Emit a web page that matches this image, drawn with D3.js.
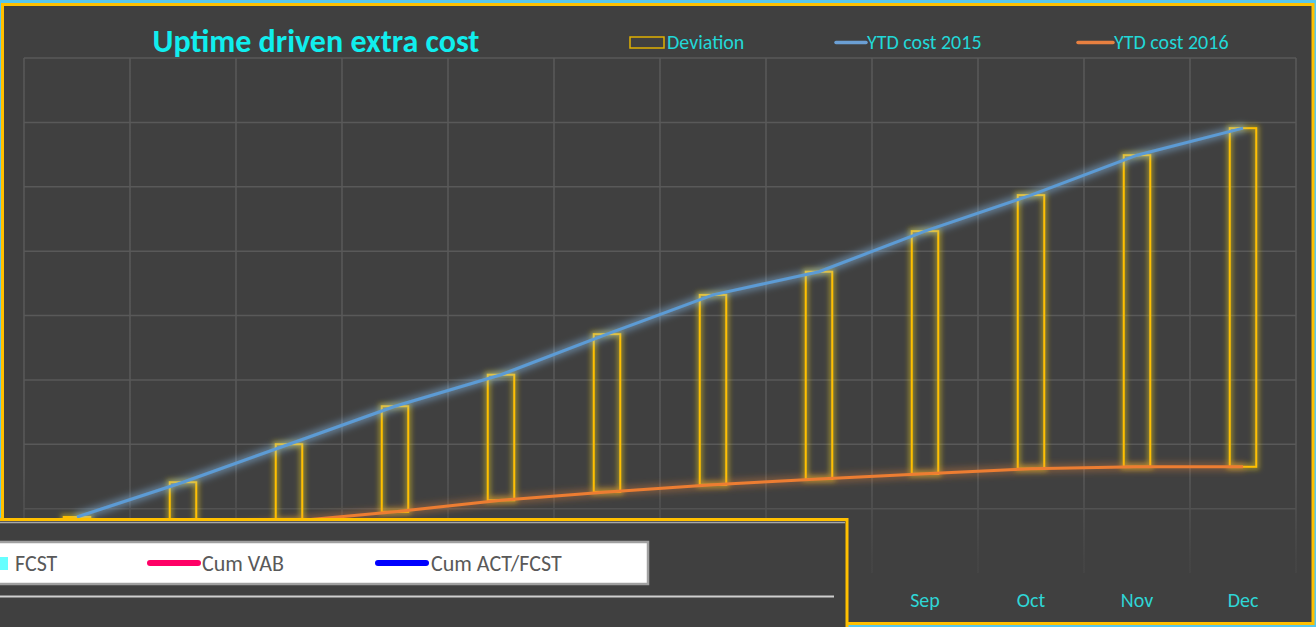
<!DOCTYPE html>
<html>
<head>
<meta charset="utf-8">
<script src="https://cdn.jsdelivr.net/npm/d3@7"></script>
<style>
  body { margin: 0; background: #58c6ec; }
  svg { display: block; }
  text { font-family: Carlito, Calibri, Lato, sans-serif; }
</style>
</head>
<body>
<svg id="chart" width="1316" height="627"></svg>
<script>
// values (gridline = 1 unit)
const months = ["Jan", "Feb", "Mar", "Apr", "May", "Jun", "Jul", "Aug", "Sep", "Oct", "Nov", "Dec"];
const ytd2015 = [0.87, 1.41, 2.00, 2.59, 3.08, 3.71, 4.32, 4.68, 5.31, 5.87, 6.49, 6.91];
const ytd2016 = [0.40, 0.63, 0.80, 0.95, 1.13, 1.26, 1.37, 1.46, 1.54, 1.62, 1.65, 1.65];
const deviation = [0.47, 0.78, 1.20, 1.64, 1.95, 2.45, 2.95, 3.22, 3.77, 4.25, 4.84, 5.26];
const yTicks = [1, 2, 3, 4, 5, 6, 7, 8];
const legendTop = ["Deviation", "YTD cost 2015", "YTD cost 2016"];
const legendBottom = ["FCST", "Cum VAB", "Cum ACT/FCST"];

const svg = d3.select("#chart");
const W = 1316, H = 627;

const defs = svg.append("defs");
function glow(id, color, dilate, blur, alpha) {
  const f = defs.append("filter").attr("id", id)
    .attr("x", "-50%").attr("y", "-50%").attr("width", "200%").attr("height", "200%");
  f.append("feMorphology").attr("in", "SourceAlpha").attr("operator", "dilate").attr("radius", dilate).attr("result", "d");
  f.append("feGaussianBlur").attr("in", "d").attr("stdDeviation", blur).attr("result", "b");
  f.append("feFlood").attr("flood-color", color).attr("flood-opacity", alpha).attr("result", "c");
  f.append("feComposite").attr("in", "c").attr("in2", "b").attr("operator", "in").attr("result", "g");
  const m = f.append("feMerge");
  m.append("feMergeNode").attr("in", "g");
  m.append("feMergeNode").attr("in", "SourceGraphic");
}
glow("glowY", "#d8c020", 1.5, 2.5, 0.55);
glow("glowB", "#8cc4f4", 2, 3.5, 0.5);
glow("glowO", "#f08a3c", 2, 3.5, 0.4);

// grid fades out towards the bottom
const gfade = defs.append("linearGradient").attr("id", "gridFade")
  .attr("gradientUnits", "userSpaceOnUse")
  .attr("x1", 0).attr("x2", 0).attr("y1", 470).attr("y2", 560);
gfade.append("stop").attr("offset", 0).attr("stop-color", "#595959");
gfade.append("stop").attr("offset", 1).attr("stop-color", "#464646");

// frame
svg.append("rect").attr("width", W).attr("height", H).attr("fill", "#58c6ec");
svg.append("rect")
  .attr("x", 2.5).attr("y", 4.5).attr("width", 1310.5).attr("height", 619)
  .attr("fill", "#404040").attr("stroke", "#ffc000").attr("stroke-width", 3);

const x = d3.scaleBand().domain(months).range([24, 1296]);
const y = d3.scaleLinear().domain([0, 8]).range([573, 58]);

// grid
const grid = svg.append("g").attr("stroke", "url(#gridFade)").attr("stroke-width", 1.5);
grid.selectAll("line.h").data(yTicks).enter().append("line")
  .attr("x1", 24).attr("x2", 1296)
  .attr("y1", d => y(d)).attr("y2", d => y(d))
  .attr("stroke", d => y(d) > 470 ? "#525252" : "#595959");
grid.selectAll("line.v").data(months.concat(["end"])).enter().append("line")
  .attr("x1", (d, i) => 24 + i * x.step()).attr("x2", (d, i) => 24 + i * x.step())
  .attr("y1", y(8)).attr("y2", y(0));

// deviation boxes
const barW = x.bandwidth() * 0.25;
svg.append("g").attr("filter", "url(#glowY)")
  .selectAll("rect").data(months).enter().append("rect")
  .attr("x", d => x(d) + x.bandwidth() / 2 - barW / 2)
  .attr("width", barW)
  .attr("y", (d, i) => y(ytd2016[i] + deviation[i]))
  .attr("height", (d, i) => y(ytd2016[i]) - y(ytd2016[i] + deviation[i]))
  .attr("fill", "none").attr("stroke", "#ffc000").attr("stroke-width", 2);

const line = d3.line()
  .x((d, i) => x(months[i]) + x.bandwidth() / 2)
  .y(d => y(d));

svg.append("path").datum(ytd2016).attr("d", line)
  .attr("fill", "none").attr("stroke", "#ed7d31").attr("stroke-width", 3)
  .attr("filter", "url(#glowO)");
svg.append("path").datum(ytd2015).attr("d", line)
  .attr("fill", "none").attr("stroke", "#5b9bd5").attr("stroke-width", 3)
  .attr("filter", "url(#glowB)");

// x labels
svg.append("g").selectAll("text").data(months).enter().append("text")
  .attr("x", d => x(d) + x.bandwidth() / 2)
  .attr("y", 607)
  .attr("text-anchor", "middle")
  .attr("fill", "#2fd6d6")
  .style("font-size", "20px")
  .text(d => d);

// title
svg.append("text")
  .attr("x", 316).attr("y", 52)
  .attr("text-anchor", "middle")
  .attr("fill", "#10eeee")
  .style("font-size", "32px").style("font-weight", "bold")
  .text("Uptime driven extra cost");

// top legend
const lg = svg.append("g");
lg.append("rect").attr("x", 630).attr("y", 37).attr("width", 34).attr("height", 11)
  .attr("fill", "none").attr("stroke", "#e0b000").attr("stroke-width", 1.5);
lg.append("line").attr("x1", 836).attr("x2", 866).attr("y1", 42.5).attr("y2", 42.5)
  .attr("stroke", "#6b9fd4").attr("stroke-width", 3.5).attr("stroke-linecap", "round");
lg.append("line").attr("x1", 1078).attr("x2", 1113).attr("y1", 42.5).attr("y2", 42.5)
  .attr("stroke", "#e88040").attr("stroke-width", 3.5).attr("stroke-linecap", "round");
lg.selectAll("text").data(legendTop).enter().append("text")
  .attr("x", (d, i) => [667, 867, 1114][i])
  .attr("y", 49)
  .attr("fill", "#22d8d8")
  .style("font-size", "20px")
  .text(d => d);

// overlapping panel from another chart
const ov = svg.append("g");
ov.append("rect").attr("x", -3).attr("y", 519.5).attr("width", 850).attr("height", 112)
  .attr("fill", "#404040").attr("stroke", "#ffc000").attr("stroke-width", 3);
ov.append("line").attr("x1", 0).attr("x2", 845).attr("y1", 522.5).attr("y2", 522.5)
  .attr("stroke", "#a8a8a8").attr("stroke-width", 1.5);
ov.append("rect").attr("x", -3).attr("y", 542).attr("width", 651).attr("height", 42)
  .attr("fill", "#ffffff").attr("stroke", "#a0a0a0").attr("stroke-width", 2.5);
ov.append("line").attr("x1", 0).attr("x2", 834).attr("y1", 596.5).attr("y2", 596.5)
  .attr("stroke", "#cfcfcf").attr("stroke-width", 2);
ov.append("rect").attr("x", 0).attr("y", 557).attr("width", 8).attr("height", 13).attr("fill", "#66ffff");
ov.append("line").attr("x1", 150).attr("x2", 198).attr("y1", 563).attr("y2", 563)
  .attr("stroke", "#ff0066").attr("stroke-width", 6).attr("stroke-linecap", "round");
ov.append("line").attr("x1", 378).attr("x2", 426).attr("y1", 563).attr("y2", 563)
  .attr("stroke", "#0000ff").attr("stroke-width", 6).attr("stroke-linecap", "round");
ov.selectAll("text").data(legendBottom).enter().append("text")
  .attr("x", (d, i) => [15, 202, 431][i])
  .attr("y", 571)
  .attr("fill", "#595959")
  .style("font-size", "22px")
  .text(d => d);
</script>
</body>
</html>
